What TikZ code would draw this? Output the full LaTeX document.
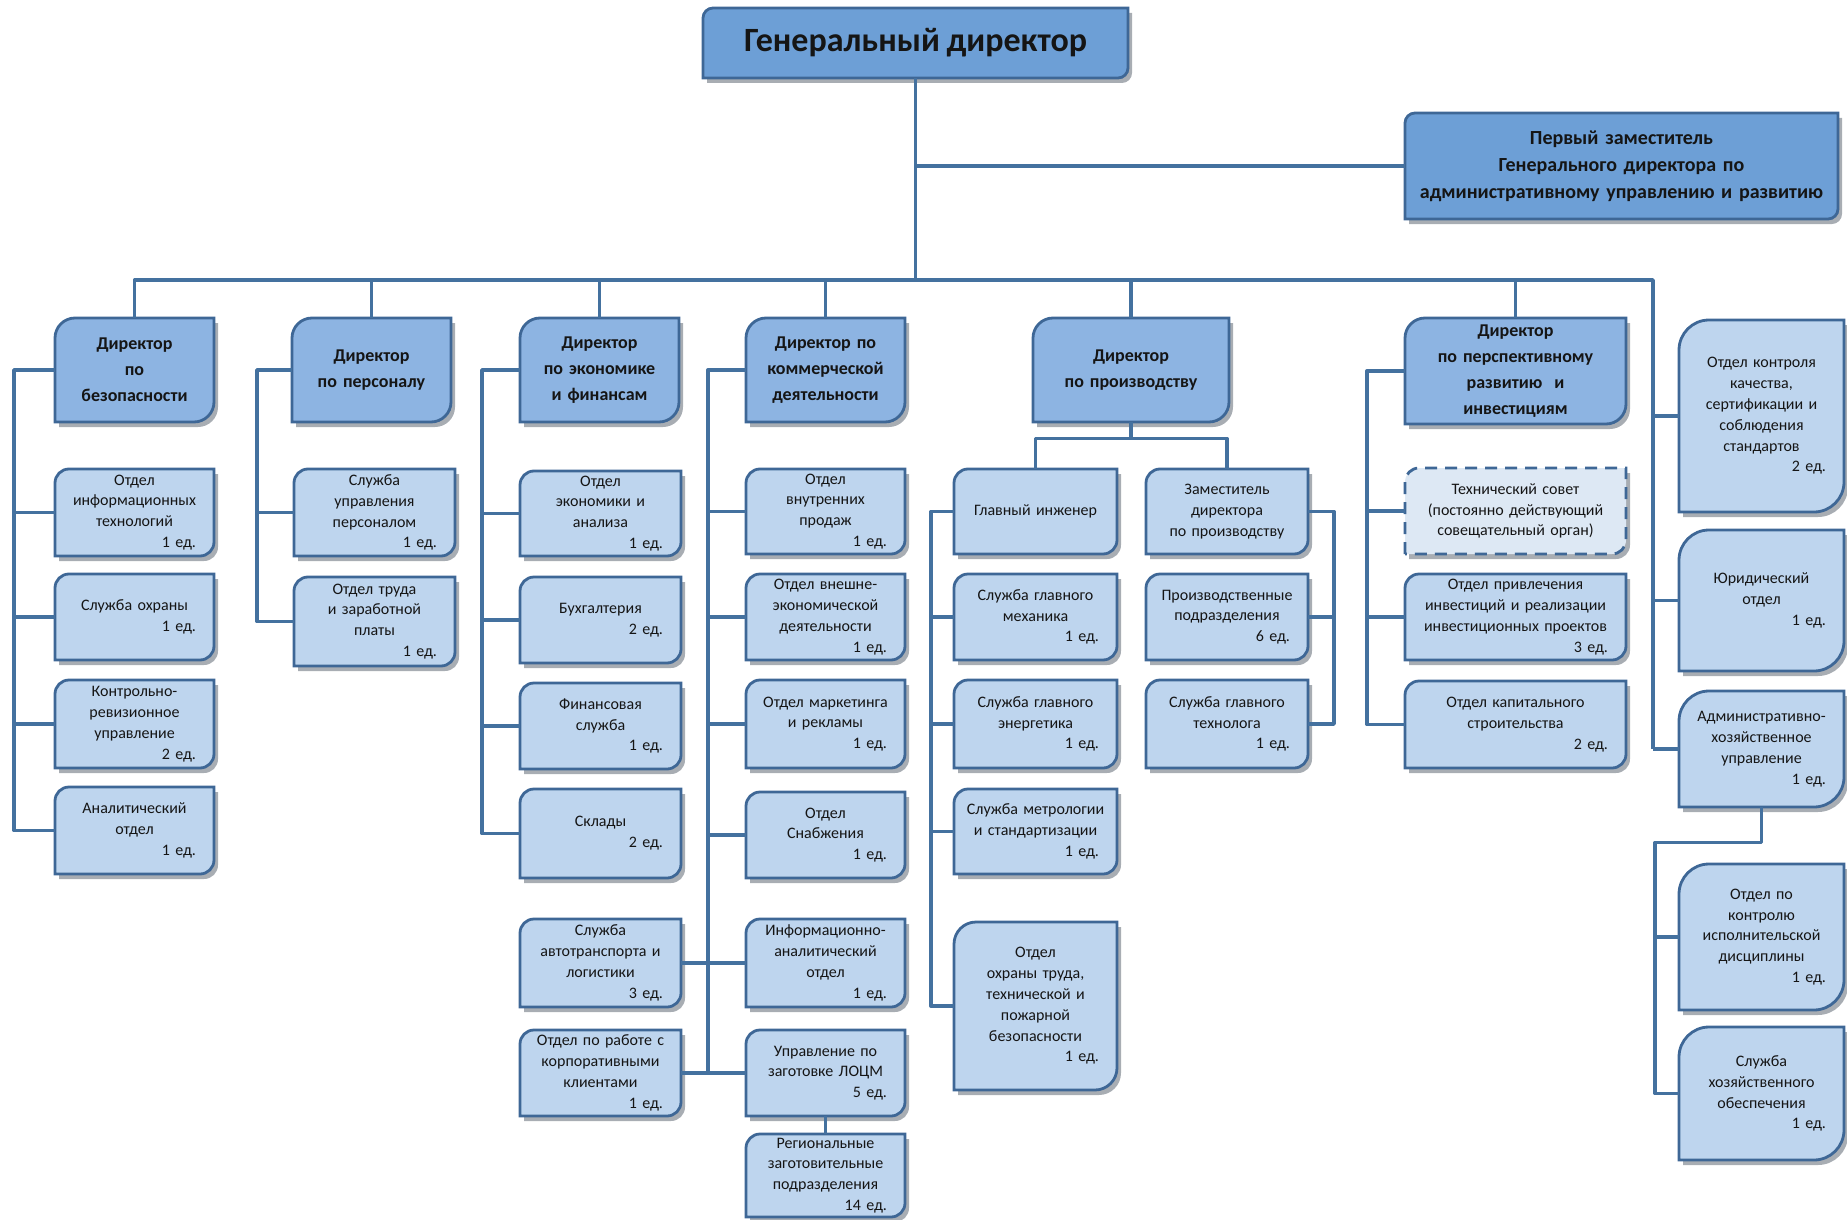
\documentclass[tikz,border=0pt]{standalone}
\usepackage{fontspec}
\setmainfont{Carlito}
\definecolor{topfill}{HTML}{6D9FD6}
\definecolor{dirfill}{HTML}{8DB4E2}
\definecolor{subfill}{HTML}{BED5EE}
\definecolor{councilfill}{HTML}{DDE8F4}
\definecolor{borderc}{HTML}{3E6796}
\definecolor{connc}{HTML}{44719F}
\definecolor{shadowc}{HTML}{A8ADB3}
\definecolor{textc}{HTML}{151515}
\tikzset{
  conn/.style={draw=connc, line width=1.7pt, line join=round},
  top shape/.style={fill=topfill, draw=borderc, line width=1.4pt},
  dir shape/.style={fill=dirfill, draw=borderc, line width=1.4pt},
  sub shape/.style={fill=subfill, draw=borderc, line width=1.4pt},
  council shape/.style={fill=councilfill, draw=borderc, line width=1.4pt, dash pattern=on 6pt off 4pt},
  shadow shape/.style={fill=shadowc, draw=none},
  gen text/.style={text=textc, font=\bfseries\fontsize{17}{20}\selectfont},
  top text/.style={text=textc, font=\bfseries\fontsize{10}{13.5}\selectfont},
  dir text/.style={text=textc, font=\bfseries\fontsize{9}{13}\selectfont},
  sub text/.style={text=textc, font=\fontsize{8}{10.4}\selectfont},
  council text/.style={text=textc, font=\fontsize{8}{10.4}\selectfont},
}
% shape: x1 y1 x2 y2 r style
\newcommand\oshape[6]{\path[#6] (#1,#4) -- (#1,{#2+#5}) .. controls (#1,{#2+0.448*#5}) and ({#1+0.448*#5},#2) .. ({#1+#5},#2) -- (#3,#2) -- (#3,{#4-#5}) .. controls (#3,{#4-0.448*#5}) and ({#3-0.448*#5},#4) .. ({#3-#5},#4) -- cycle;}
% box: kind name x1 y1 x2 y2 r text
\newcommand\obox[8]{%
  \pgfmathsetmacro\oBW{(#5-#3)*0.5}%
  \pgfmathsetmacro\oBH{(#6-#4)*0.5}%
  \pgfmathsetmacro\oTW{(#5-#3)*0.5-6}%
  \begin{scope}[shift={(4,5)}]\oshape{#3}{#4}{#5}{#6}{#7}{shadow shape}\end{scope}%
  \oshape{#3}{#4}{#5}{#6}{#7}{#1 shape}%
  \node[#1 text, inner sep=0pt, minimum width=\oBW pt, minimum height=\oBH pt, text width=\oTW pt, align=center] (#2) at ({(#3+#5)/2},{(#4+#6)/2}) {#8};%
}
\newcommand\ed[1]{\\\mbox{}\hfill #1 ед.\hspace*{6pt}}
\begin{document}
\begin{tikzpicture}[x=0.5pt,y=-0.5pt]
\useasboundingbox (0,0) rectangle (1847,1220);
% top level
\obox{top}{gen}{703}{8}{1128}{78}{10}{\fontsize{17}{20}\selectfont Генеральный директор}
\obox{top}{dep}{1405}{113}{1838}{219}{10}{Первый заместитель\\Генерального директора по\\административному управлению и развитию}
% directors
\obox{dir}{d1}{55}{318}{214}{422}{20}{Директор\\по\\безопасности}
\obox{dir}{d2}{292}{318}{451}{422}{20}{Директор\\по персоналу}
\obox{dir}{d3}{520}{318}{679}{422}{20}{Директор\\по экономике\\и финансам}
\obox{dir}{d4}{746}{318}{905}{422}{20}{Директор по\\коммерческой\\деятельности}
\obox{dir}{d5}{1033}{318}{1229}{422}{20}{Директор\\по производству}
\obox{dir}{d6}{1405}{318}{1626}{424}{20}{Директор\\по перспективному\\развитию\ \ и\\инвестициям}
% security
\obox{sub}{s11}{55}{469}{214}{556}{14}{Отдел\\информационных\\технологий\ed{1}}
\obox{sub}{s12}{55}{574}{214}{660}{14}{Служба охраны\ed{1}}
\obox{sub}{s13}{55}{680}{214}{768}{14}{Контрольно-\\ревизионное\\управление\ed{2}}
\obox{sub}{s14}{55}{787}{214}{874}{14}{Аналитический\\отдел\ed{1}}
% personnel
\obox{sub}{s21}{294}{469}{455}{556}{14}{Служба\\управления\\персоналом\ed{1}}
\obox{sub}{s22}{294}{577}{455}{666}{14}{Отдел труда\\и заработной\\платы\ed{1}}
% economy
\obox{sub}{s31}{520}{471}{681}{556}{14}{Отдел\\экономики и\\анализа\ed{1}}
\obox{sub}{s32}{520}{577}{681}{663}{14}{Бухгалтерия\ed{2}}
\obox{sub}{s33}{520}{683}{681}{769}{14}{Финансовая\\служба\ed{1}}
\obox{sub}{s34}{520}{789}{681}{878}{14}{Склады\ed{2}}
\obox{sub}{avto}{520}{919}{681}{1007}{14}{Служба\\автотранспорта и\\логистики\ed{3}}
\obox{sub}{korp}{520}{1030}{681}{1116}{14}{Отдел по работе с\\корпоративными\\клиентами\ed{1}}
% commerce
\obox{sub}{s41}{746}{469}{905}{554}{14}{Отдел\\внутренних\\продаж\ed{1}}
\obox{sub}{s42}{746}{574}{905}{660}{14}{Отдел внешне-\\экономической\\деятельности\ed{1}}
\obox{sub}{s43}{746}{680}{905}{768}{14}{Отдел маркетинга\\и рекламы\ed{1}}
\obox{sub}{s44}{746}{792}{905}{878}{14}{Отдел\\Снабжения\ed{1}}
\obox{sub}{info}{746}{919}{905}{1007}{14}{Информационно-\\аналитический\\отдел\ed{1}}
\obox{sub}{locm}{746}{1030}{905}{1116}{14}{Управление по\\заготовке ЛОЦМ\ed{5}}
\obox{sub}{reg}{746}{1134}{905}{1217}{14}{Региональные\\заготовительные\\подразделения\ed{14}}
% production
\obox{sub}{glav}{954}{469}{1117}{554}{14}{Главный инженер}
\obox{sub}{zam}{1146}{469}{1308}{554}{14}{Заместитель\\директора\\по производству}
\obox{sub}{mech}{954}{574}{1117}{660}{14}{Служба главного\\механика\ed{1}}
\obox{sub}{energ}{954}{680}{1117}{768}{14}{Служба главного\\энергетика\ed{1}}
\obox{sub}{metr}{954}{789}{1117}{874}{14}{Служба метрологии\\и стандартизации\ed{1}}
\obox{sub}{otrud}{954}{922}{1117}{1090}{22}{Отдел\\охраны труда,\\технической и\\пожарной\\безопасности\ed{1}}
\obox{sub}{proizv}{1146}{574}{1308}{660}{14}{Производственные\\подразделения\ed{6}}
\obox{sub}{techn}{1146}{680}{1308}{768}{14}{Служба главного\\технолога\ed{1}}
% perspective
\obox{council}{council}{1405}{468}{1626}{554}{14}{Технический совет\\(постоянно действующий\\совещательный орган)}
\obox{sub}{privl}{1405}{574}{1626}{660}{14}{Отдел привлечения\\инвестиций и реализации\\инвестиционных проектов\ed{3}}
\obox{sub}{kap}{1405}{681}{1626}{768}{14}{Отдел капитального\\строительства\ed{2}}
% right column
\obox{sub}{kontr}{1679}{320}{1844}{512}{30}{Отдел контроля\\качества,\\сертификации и\\соблюдения\\стандартов\ed{2}}
\obox{sub}{yur}{1679}{530}{1844}{671}{30}{Юридический\\отдел\ed{1}}
\obox{sub}{adm}{1679}{691}{1844}{807}{30}{Административно-\\хозяйственное\\управление\ed{1}}
\obox{sub}{disc}{1679}{864}{1844}{1010}{30}{Отдел по\\контролю\\исполнительской\\дисциплины\ed{1}}
\obox{sub}{hoz}{1679}{1027}{1844}{1160}{30}{Служба\\хозяйственного\\обеспечения\ed{1}}
% ---------- connectors ----------
\coordinate (bus) at (0,280);
\coordinate (rcol) at (1653,280);
\draw[conn] (gen.south) -- (gen.south |- bus);
\draw[conn] (gen.south |- dep.west) -- (dep.west);
\draw[conn] (d1.north) |- (rcol) -- (rcol |- adm.west);
\foreach \d in {d2,d3,d4,d5,d6} \draw[conn] (\d.north) -- (\d.north |- bus);
\foreach \t in {kontr,yur} \draw[conn] (rcol |- \t.west) -- (\t.west);
\draw[conn] (rcol |- adm.west) -- (adm.west);
% security
\coordinate (b1) at (14,0);
\draw[conn] (d1.west) -- (b1 |- d1.west) |- (s14.west);
\foreach \t in {s11,s12,s13} \draw[conn] (b1 |- \t.west) -- (\t.west);
% personnel
\coordinate (b2) at (257,0);
\draw[conn] (d2.west) -- (b2 |- d2.west) |- (s22.west);
\draw[conn] (b2 |- s21.west) -- (s21.west);
% economy
\coordinate (b3) at (482,0);
\draw[conn] (d3.west) -- (b3 |- d3.west) |- (s34.west);
\foreach \t in {s31,s32,s33} \draw[conn] (b3 |- \t.west) -- (\t.west);
% commerce
\coordinate (b4) at (708,0);
\draw[conn] (d4.west) -- (b4 |- d4.west) -- (b4 |- locm.west);
\foreach \t in {s41,s42,s43,s44} \draw[conn] (b4 |- \t.west) -- (\t.west);
\draw[conn] (avto.east) -- (info.west);
\draw[conn] (korp.east) -- (locm.west);
\draw[conn] (locm.south) -- (reg.north);
% production
\draw[conn] (d5.south) -- ++(0,16) coordinate (pj);
\draw[conn] (pj) -| (glav.north);
\draw[conn] (pj) -| (zam.north);
\coordinate (b5) at (931,0);
\draw[conn] (glav.west) -- (b5 |- glav.west) |- (otrud.west);
\foreach \t in {mech,energ,metr} \draw[conn] (b5 |- \t.west) -- (\t.west);
\coordinate (b5r) at (1334,0);
\draw[conn] (zam.east) -- (b5r |- zam.east) |- (techn.east);
\draw[conn] (b5r |- proizv.east) -- (proizv.east);
% perspective
\coordinate (b6) at (1367,0);
\draw[conn] (d6.west) -- (b6 |- d6.west) |- (kap.west);
\foreach \t in {council,privl} \draw[conn] (b6 |- \t.west) -- (\t.west);
% admin subordinates
\coordinate (b7) at (1655,0);
\draw[conn] (adm.south) -- ++(0,35) -| (b7 |- hoz.west) -- (hoz.west);
\draw[conn] (b7 |- disc.west) -- (disc.west);
\end{tikzpicture}
\end{document}
